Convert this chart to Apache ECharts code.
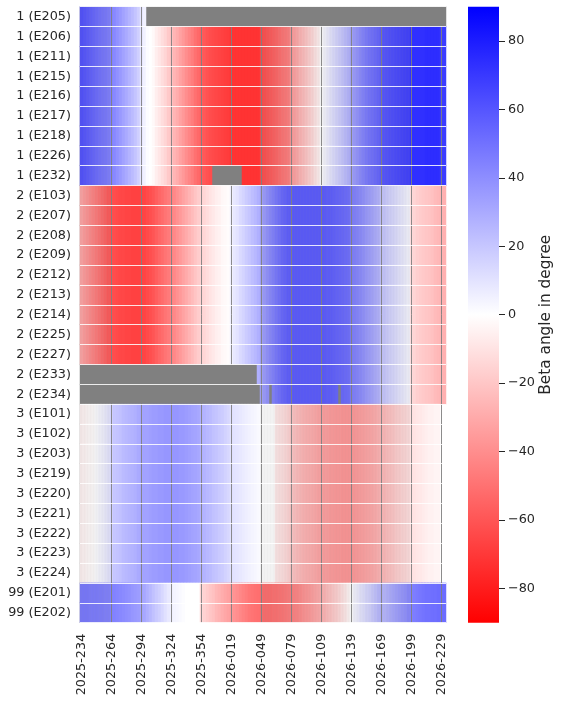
<!DOCTYPE html>
<html><head><meta charset="utf-8">
<script src="https://cdn.jsdelivr.net/npm/echarts@6/dist/echarts.min.js"></script>
<style>html,body{margin:0;padding:0;background:#fff}#c{width:561px;height:703px}</style>
</head><body><div id="c"></div>
<script>
const satellites = ['1 (E205)','1 (E206)','1 (E211)','1 (E215)','1 (E216)','1 (E217)','1 (E218)','1 (E226)','1 (E232)',
  '2 (E103)','2 (E207)','2 (E208)','2 (E209)','2 (E212)','2 (E213)','2 (E214)','2 (E225)','2 (E227)','2 (E233)','2 (E234)',
  '3 (E101)','3 (E102)','3 (E203)','3 (E219)','3 (E220)','3 (E221)','3 (E222)','3 (E223)','3 (E224)',
  '99 (E201)','99 (E202)'];
const tickLabels = ['2025-234','2025-264','2025-294','2025-324','2025-354','2026-019','2026-049','2026-079','2026-109','2026-139','2026-169','2026-199','2026-229'];
// beta angle (deg) per 3-day bin, bin j centred on day 3j after 2025-234
const plane1Beta = [64,62,60,58,56,54,52,50,49,47,
  45,42,39,36,33,30,27,24,21,17,
  10,5,1,0,-2,-6,-9,-12,-15,-19,
  -22,-26,-29,-33,-36,-40,-43,-46,-50,-53,
  -57,-59,-61,-63,-64,-65,-66,-67,-68,-69,
  -72,-72,-72,-72,-72,-72,-72,-72,-72,-72,
  -66,-64,-62,-60,-58,-56,-53,-51,-49,-47,
  -38,-34,-31,-27,-24,-21,-17,-14,-10,-6,
  0,3,6,9,12,15,18,21,24,27,
  33,36,39,42,45,48,50,52,54,56,
  60,62,63,64,65,66,67,68,69,70,
  73,73,73,73,73,74,74,74,74,74,
  69,69];
const plane2Beta = [-33,-36,-39,-42,-45,-48,-51,-54,-57,-60,
  -62,-63,-64,-65,-65,-66,-66,-67,-67,-67,
  -67,-66,-64,-62,-60,-57,-54,-52,-49,-47,
  -45,-42,-39,-36,-33,-30,-27,-24,-21,-18,
  -16,-14,-12,-10,-8,-6,-5,-3,-2,-1,
  5,8,10,13,15,18,20,23,25,28,
  33,36,40,43,46,49,52,55,57,59,
  59,60,60,60,60,60,60,60,60,60,
  60,60,59,59,58,57,56,55,54,53,
  48,46,44,42,40,37,35,33,30,28,
  22,20,18,16,14,12,10,8,6,4,
  -14,-15,-17,-18,-19,-20,-21,-22,-24,-25,
  -27,-28];
const plane3Beta = [-5,-4,-3,-2,-1,1,3,5,7,9,
  17,20,21,22,24,25,26,27,28,30,
  32,33,33,34,35,35,36,36,37,37,
  37,37,37,36,36,35,34,33,32,31,
  28,27,25,24,22,21,19,18,16,14,
  11,10,9,8,7,6,5,4,3,2,
  0,0,0,0,0,-8,-10,-11,-13,-15,
  -21,-22,-24,-25,-27,-28,-29,-30,-31,-33,
  -34,-35,-35,-36,-36,-37,-37,-38,-38,-38,
  -38,-37,-36,-35,-34,-33,-32,-31,-30,-28,
  -27,-25,-23,-22,-20,-18,-17,-15,-14,-12,
  -11,-10,-9,-8,-7,-6,-5,-5,-4,-4];
const plane99Beta = [49,49,49,48,48,48,47,47,46,46,
  45,44,43,42,41,40,39,37,36,35,
  33,31,28,25,22,19,17,14,11,8,
  6,4,3,2,1,0,0,0,0,0,
  -14,-16,-18,-20,-22,-25,-27,-29,-31,-33,
  -36,-38,-40,-42,-44,-46,-48,-49,-50,-51,
  -52,-53,-53,-53,-52,-52,-51,-50,-49,-48,
  -47,-45,-44,-42,-40,-38,-37,-35,-33,-31,
  -30,-27,-24,-22,-19,-17,-14,-11,-8,-4,
  0,4,6,9,11,14,16,19,22,25,
  28,26,28,30,32,34,36,38,40,43,
  45,46,47,48,49,50,50,51,51,52,
  52,52];
// missing data: [satellite, first bin, last bin]
const missingBins = [['1 (E205)',22,121],['1 (E232)',44,53],['2 (E233)',0,58],['2 (E234)',0,59],['2 (E234)',63,63],['2 (E234)',86,86]];
// bin ranges where some days inside each bin are missing (partial coverage)
const partialBins = [[0,9],[60,109]];
const colorbarTicks = [-80,-60,-40,-20,0,20,40,60,80];
const cmapColors = ['#ff0000','#ffffff','#0000ff'];

const binCount = 122, binDays = 3;
function doyLabel(d){ let y = 2025, n = 234 + d; if (n > 365) { y = 2026; n -= 365; } return y + '-' + String(n).padStart(3,'0'); }
const xCats = [];
for (let j = 0; j < binCount; j++) xCats.push(doyLabel(j * binDays));
const planeBeta = {'1': plane1Beta, '2': plane2Beta, '3': plane3Beta, '99': plane99Beta};
const fullCells = [], partCells = [], grayCells = [];
satellites.forEach((s, r) => {
  const arr = planeBeta[s.split(' ')[0]];
  for (let j = 0; j < binCount; j++) {
    const miss = missingBins.some(m => m[0] === s && j >= m[1] && j <= m[2]);
    if (miss) { grayCells.push([j, r, 0]); continue; }
    if (j >= arr.length) continue;
    const partial = partialBins.some(p => j >= p[0] && j <= p[1]);
    if (partial) { partCells.push([j, r, arr[j]]); grayCells.push([j, r, 0]); }
    else fullCells.push([j, r, arr[j]]);
  }
});

const chart = echarts.init(document.getElementById('c'), null, {renderer: 'canvas'});
const txt = '#262626';
chart.setOption({
  animation: false,
  textStyle: {fontFamily: 'DejaVu Sans'},
  grid: [{left: 80, top: 6.7, width: 366, height: 616}, {left: 468, top: 6.7, width: 31, height: 616}],
  xAxis: [
    {type: 'category', gridIndex: 0, data: xCats, axisLine: {show: false}, axisTick: {show: false}, splitLine: {show: false},
     axisLabel: {interval: 9, rotate: 90, margin: 11, fontSize: 12.8, color: txt}},
    {type: 'category', gridIndex: 1, data: ['cb'], show: false}
  ],
  yAxis: [
    {type: 'category', gridIndex: 0, data: satellites, inverse: true, z: 6, axisLine: {show: false}, axisTick: {show: false},
     axisLabel: {interval: 0, margin: 9, fontSize: 12.8, color: txt},
     splitLine: {show: true, interval: 0, lineStyle: {color: 'rgba(255,255,255,0.85)', width: 1}}},
    {type: 'value', gridIndex: 1, position: 'right', min: -90, max: 90, axisLine: {show: false}, splitLine: {show: false},
     axisTick: {show: true, length: 6, customValues: colorbarTicks, lineStyle: {color: txt, width: 1}},
     axisLabel: {customValues: colorbarTicks, margin: 9, fontSize: 12.8, color: txt, formatter: v => String(v).replace('-', '\u2212')},
     name: 'Beta angle in degree', nameLocation: 'middle', nameGap: 40, nameRotate: 90,
     nameTextStyle: {fontSize: 15.3, color: txt}}
  ],
  visualMap: {type: 'continuous', show: false, min: -90, max: 90, dimension: 2, seriesIndex: [0, 1], inRange: {color: cmapColors}},
  series: [
    {type: 'heatmap', xAxisIndex: 0, yAxisIndex: 0, data: fullCells, z: 2, progressive: 0, emphasis: {disabled: true},
     markLine: {silent: true, symbol: 'none', animation: false, label: {show: false},
       lineStyle: {color: '#808080', width: 1, type: 'solid', opacity: 0.9},
       data: tickLabels.slice(1).map(t => ({xAxis: t}))}},
    {type: 'heatmap', xAxisIndex: 0, yAxisIndex: 0, data: partCells, z: 2, progressive: 0, itemStyle: {opacity: 0.87}, emphasis: {disabled: true}},
    {type: 'heatmap', xAxisIndex: 0, yAxisIndex: 0, data: grayCells, z: 1, progressive: 0, itemStyle: {color: '#808080'}, emphasis: {disabled: true}},
    {type: 'custom', xAxisIndex: 1, yAxisIndex: 1, data: [[0, -90, 90]], silent: true,
     renderItem: (params, api) => {
       const top = api.coord([0, api.value(2)]);
       const bot = api.coord([0, api.value(1)]);
       const w = api.size([1, 0])[0];
       return {type: 'rect', shape: {x: top[0] - w / 2, y: top[1], width: w, height: bot[1] - top[1]},
         style: {fill: new echarts.graphic.LinearGradient(0, 0, 0, 1, [
           {offset: 0, color: cmapColors[2]}, {offset: 0.5, color: cmapColors[1]}, {offset: 1, color: cmapColors[0]}])}};
     }}
  ]
});
</script></body></html>
